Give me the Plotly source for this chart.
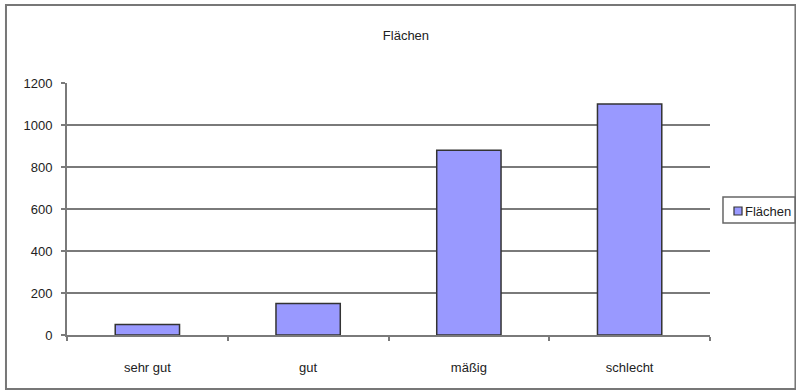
import plotly.graph_objects as go

# Flächen nach Zustandsklasse
categories = ["sehr gut", "gut", "mäßig", "schlecht"]
flaechen = [50, 150, 880, 1100]
y_ticks = [0, 200, 400, 600, 800, 1000, 1200]
series_name = "Flächen"

GRID = "#7a7a7a"
BAR = "#9999ff"
EDGE = "#333333"
FONT = "Liberation Sans, Arial, sans-serif"

fig = go.Figure()
fig.add_trace(go.Bar(
    x=categories,
    y=flaechen,
    name=series_name,
    marker=dict(color=BAR, line=dict(color=EDGE, width=1.5)),
    showlegend=False,
))

fig.update_layout(
    width=796,
    height=390,
    margin=dict(l=67, r=86, t=83, b=55, autoexpand=False),
    paper_bgcolor="white",
    plot_bgcolor="white",
    font=dict(family=FONT, size=13, color="#222222"),
    bargap=0.6,
    title=dict(text=series_name, x=0.51, xanchor="center", y=0.91, yanchor="middle",
               font=dict(family=FONT, size=13, color="#222222")),
    xaxis=dict(
        type="category",
        showgrid=False,
        showline=True, linecolor=GRID, linewidth=2,
        ticks="outside", ticklen=4, tickcolor=GRID, tickwidth=2,
        tickson="boundaries",
        ticklabelstandoff=19,
        fixedrange=True,
    ),
    yaxis=dict(
        range=[0, 1200],
        tickvals=y_ticks,
        showgrid=True, gridcolor=GRID, gridwidth=2,
        showline=True, linecolor=GRID, linewidth=2,
        ticks="outside", ticklen=4, tickcolor=GRID, tickwidth=2,
        ticklabelstandoff=6,
        zeroline=False,
        fixedrange=True,
    ),
    shapes=[
        # outer chart frame
        dict(type="rect", xref="paper", yref="paper",
             x0=-0.0949, x1=1.1329, y0=-0.214, y1=1.3095,
             line=dict(color="#777777", width=2), fillcolor="rgba(0,0,0,0)",
             layer="below"),
        # legend box
        dict(type="rect", xref="paper", yref="paper",
             x0=1.0202, x1=1.1322, y0=0.4444, y1=0.5476,
             line=dict(color="#666666", width=1.5), fillcolor="white"),
        # legend swatch
        dict(type="rect", xref="paper", yref="paper",
             x0=1.0373, x1=1.0498, y0=0.4762, y1=0.5079,
             line=dict(color=EDGE, width=1.2), fillcolor=BAR),
    ],
    annotations=[
        dict(text=series_name, xref="paper", yref="paper",
             x=1.0513, y=0.492, xanchor="left", yanchor="middle",
             showarrow=False, font=dict(family=FONT, size=13, color="#222222")),
    ],
)

fig.write_html("out.html")
